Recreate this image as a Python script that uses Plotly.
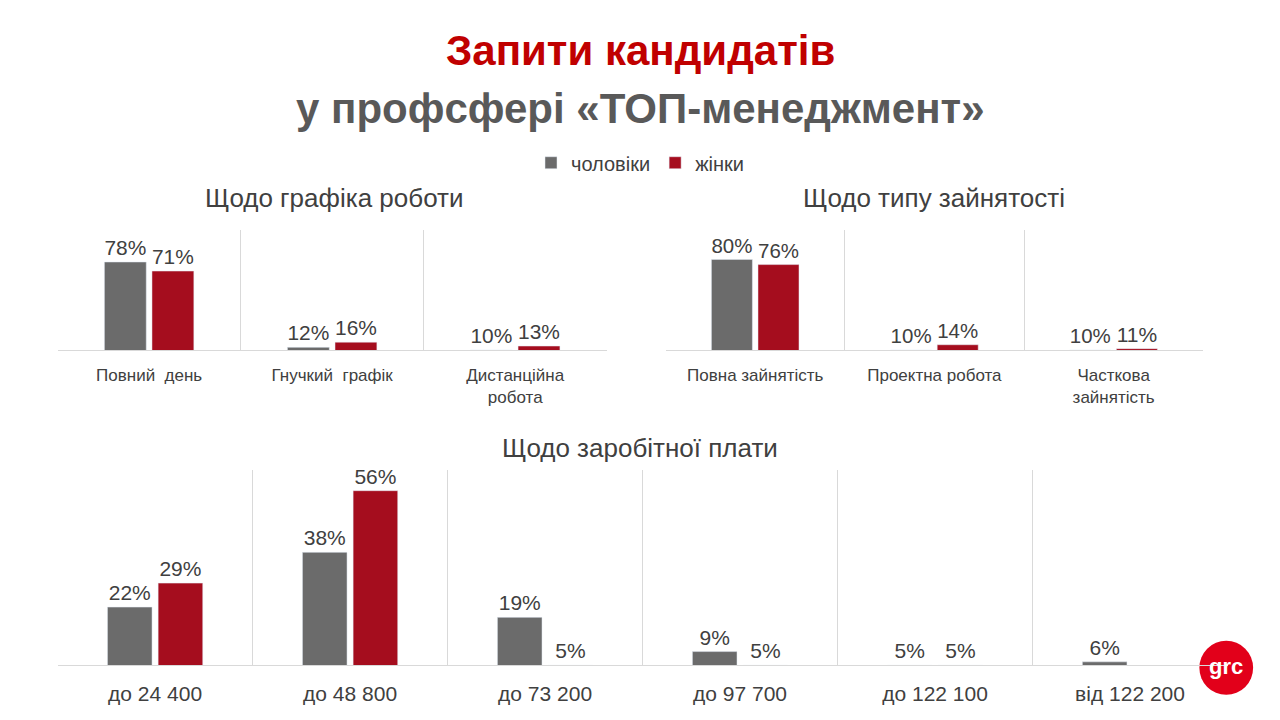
import plotly.graph_objects as go

sched_cats = ["Повний  день", "Гнучкий  графік", "Дистанційна<br>робота"]
sched_m = [78, 12, 10]
sched_f = [71, 16, 13]
emp_cats = ["Повна зайнятість", "Проектна робота", "Часткова<br>зайнятість"]
emp_m = [80, 10, 10]
emp_f = [76, 14, 11]
sal_cats = ["до 24 400", "до 48 800", "до 73 200", "до 97 700", "до 122 100", "від 122 200"]
sal_m = [22, 38, 19, 9, 5, 6]
sal_f = [29, 56, 5, 5, 5, 0]

GRAY = "#6b6b6b"
RED = "#a50d1e"
TXT = "#404040"
DX = 8 / 1280
DY = 8 / 720

fig = go.Figure()

def add(cats, m, f, xa, ya, show, fs):
    for name, vals, col in [("чоловіки", m, GRAY), ("жінки", f, RED)]:
        fig.add_trace(go.Bar(x=cats, y=vals, name=name, marker_color=col,
                             text=[f"{v}%" for v in vals], textposition="outside",
                             textfont=dict(size=fs, color=TXT), cliponaxis=False,
                             xaxis=xa, yaxis=ya, showlegend=show, legendgroup=name))

add(sched_cats, sched_m, sched_f, "x", "y", True, 21)
add(emp_cats, emp_m, emp_f, "x2", "y2", False, 21)
add(sal_cats, sal_m, sal_f, "x3", "y3", False, 21)

xcommon = dict(type="category", showgrid=True, gridcolor="#d9d9d9", tickson="boundaries",
               showline=True, linecolor="#d9d9d9", ticks="", ticklabelstandoff=10,
               tickfont=dict(color=TXT, size=17))
ycommon = dict(visible=False, fixedrange=True)

def dx(a, b): return [a - DX, b - DX]
def dy(a, b): return [a + DY, b + DY]

def ann(text, x, y, size, color):
    return dict(text=text, x=x - DX, y=y + DY, xref="paper", yref="paper", showarrow=False,
                xanchor="center", yanchor="middle", font=dict(size=size, color=color))

fig.update_layout(
    width=1280, height=720, margin=dict(l=0, r=0, t=0, b=0),
    paper_bgcolor="white", plot_bgcolor="white",
    font=dict(family="Liberation Sans, Arial, sans-serif", color=TXT),
    barmode="group", bargap=0.48, bargroupgap=0.12,
    xaxis=dict(domain=dx(0.045, 0.474), anchor="y", **xcommon),
    yaxis=dict(domain=dy(0.514, 0.681), range=[10, 103], anchor="x", **ycommon),
    xaxis2=dict(domain=dx(0.52, 0.94), anchor="y2", **xcommon),
    yaxis2=dict(domain=dy(0.514, 0.681), range=[10, 103], anchor="x2", **ycommon),
    xaxis3=dict(domain=dx(0.045, 0.959), anchor="y3", **{**xcommon, "tickfont": dict(color=TXT, size=21)}),
    yaxis3=dict(domain=dy(0.076, 0.347), range=[5, 62], anchor="x3", **ycommon),
    legend=dict(orientation="h", x=0.5 - DX, xanchor="center", y=0.774 + DY, yanchor="middle",
                font=dict(size=20, color=TXT)),
    annotations=[
        ann("<b>Запити кандидатів</b>", 0.5, 0.93, 42, "#c00000"),
        ann("<b>у профсфері «ТОП-менеджмент»</b>", 0.5, 0.85, 42, "#595959"),
        ann("Щодо графіка роботи", 0.261, 0.725, 26, TXT),
        ann("Щодо типу зайнятості", 0.73, 0.725, 26, TXT),
        ann("Щодо заробітної плати", 0.5, 0.378, 26, TXT),
        ann("<b>grc</b>", 0.958, 0.075, 22, "white"),
    ],
    shapes=[dict(type="circle", xref="paper", yref="paper", x0=0.937 - DX, x1=0.979 - DX,
                 y0=0.035 + DY, y1=0.11 + DY, fillcolor="#e2001a", line=dict(width=0), layer="below")],
)

fig.write_html("out.html")
